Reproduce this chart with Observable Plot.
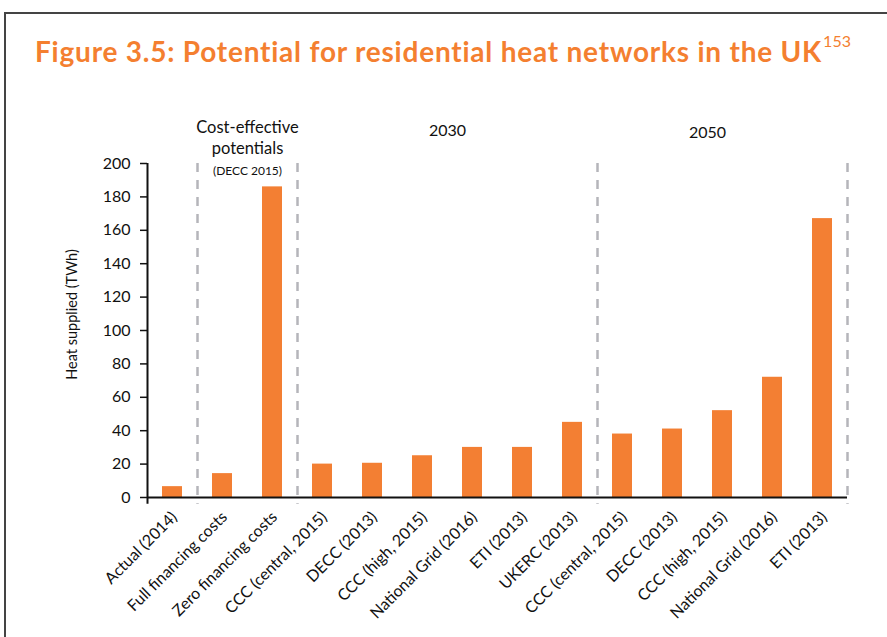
<!DOCTYPE html>
<html>
<head>
<meta charset="utf-8">
<script src="https://cdn.jsdelivr.net/npm/d3@7"></script>
<script src="https://cdn.jsdelivr.net/npm/@observablehq/plot@0.6"></script>
<style>
  html, body { margin: 0; padding: 0; background: #fff; width: 887px; height: 637px; overflow: hidden; }
  #frame { position: absolute; left: 4px; top: 12px; width: 1000px; height: 700px; border-top: 2px solid #444; border-left: 2px solid #444; }
  #title { position: absolute; left: 35px; top: 34px; font-family: Lato, sans-serif; font-weight: 700; font-size: 28px; letter-spacing: 0.78px; color: #f47f30; white-space: nowrap; }
  #title sup { font-weight: 400; font-size: 16px; letter-spacing: 0; vertical-align: top; position: relative; top: -3px; margin-left: 1px; }
  #chart { position: absolute; left: 0; top: 100px; }
  #chart svg { overflow: visible; }
</style>
</head>
<body>
<div id="frame"></div>
<div id="title">Figure 3.5: Potential for residential heat networks in the UK<sup>153</sup></div>
<div id="chart"></div>
<script>
// Category keys (unique) and their display labels
const ids = ["a2014", "full", "zero", "c30ccc", "c30decc", "c30ccch", "c30ng", "c30eti", "c30ukerc", "c50ccc", "c50decc", "c50ccch", "c50ng", "c50eti"];
const labels = ["Actual (2014)", "Full financing costs", "Zero financing costs", "CCC (central, 2015)", "DECC (2013)", "CCC (high, 2015)", "National Grid (2016)", "ETI (2013)", "UKERC (2013)", "CCC (central, 2015)", "DECC (2013)", "CCC (high, 2015)", "National Grid (2016)", "ETI (2013)"];
const values = [6.5, 14.3, 186, 20, 20.5, 25, 30, 30, 45, 38, 41, 52, 72, 167];
const yTicks = [0, 20, 40, 60, 80, 100, 120, 140, 160, 180, 200];
const yLabel = "Heat supplied (TWh)";
// Group separators: dashed line at left edge of these categories, plus right edge of the last
const sepBefore = ["full", "c30ccc", "c50ccc"];
const sepAfter = ["c50eti"];
const groupCost = ["Cost-effective", "potentials"];
const groupCostSub = "(DECC 2015)";
const group2030 = "2030";
const group2050 = "2050";

const data = ids.map((id, i) => ({id, label: labels[i], value: values[i]}));
const labelOf = new Map(ids.map((id, i) => [id, labels[i]]));

const font = "Lato, sans-serif";
const orange = "#f37f33";
const dashGray = "#b5b5ba";
const ink = "#111";

const chart = Plot.plot({
  width: 887,
  height: 537,
  marginLeft: 147,
  marginRight: 40,
  marginTop: 63,
  marginBottom: 140,
  style: {fontFamily: font, fontSize: "15px", color: ink, background: "transparent", overflow: "visible"},
  x: {domain: ids, paddingInner: 0.6, paddingOuter: 0.3},
  y: {domain: [0, 200]},
  marks: [
    Plot.barY(data, {x: "id", y: "value", fill: orange}),
    // dashed separators
    Plot.ruleX(sepBefore, {x: d => d, y1: 200, y2: -4, dx: -25, stroke: dashGray, strokeWidth: 2.5, strokeDasharray: "9,8"}),
    Plot.ruleX(sepAfter, {x: d => d, y1: 200, y2: -4, dx: 25, stroke: dashGray, strokeWidth: 2.5, strokeDasharray: "9,8"}),
    // axis lines
    Plot.ruleY([0], {stroke: ink, strokeWidth: 2}),
    Plot.ruleX([ids[0]], {x: d => d, y1: -4, y2: 200, dx: -25, stroke: ink, strokeWidth: 2}),
    Plot.axisY({ticks: yTicks, tickSize: 7, tickPadding: 10, fontSize: 16, label: null, stroke: ink, strokeWidth: 1.5}),
    Plot.axisX({tickFormat: d => labelOf.get(d), tickRotate: -45, tickSize: 0, tickPadding: 17, dx: 2, fontSize: 16, label: null}),
    // y-axis title
    Plot.text([yLabel], {x: () => ids[0], y: () => 100, rotate: -90, dx: -100, dy: -16, fontSize: 14.5, fill: ink}),
    // group labels
    Plot.text([groupCost[0]], {x: () => "full", y: () => 200, dx: 25, dy: -36, fontSize: 16.5, fill: ink}),
    Plot.text([groupCost[1]], {x: () => "full", y: () => 200, dx: 25, dy: -15, fontSize: 16.5, fill: ink}),
    Plot.text([groupCostSub], {x: () => "full", y: () => 200, dx: 25, dy: 8, fontSize: 12, fill: ink}),
    Plot.text([group2030], {x: () => "c30ccch", y: () => 200, dx: 25, dy: -33, fontSize: 16, fill: ink}),
    Plot.text([group2050], {x: () => "c50decc", y: () => 200, dx: 35, dy: -31, fontSize: 16, fill: ink})
  ]
});
document.getElementById("chart").appendChild(chart);
</script>
</body>
</html>
